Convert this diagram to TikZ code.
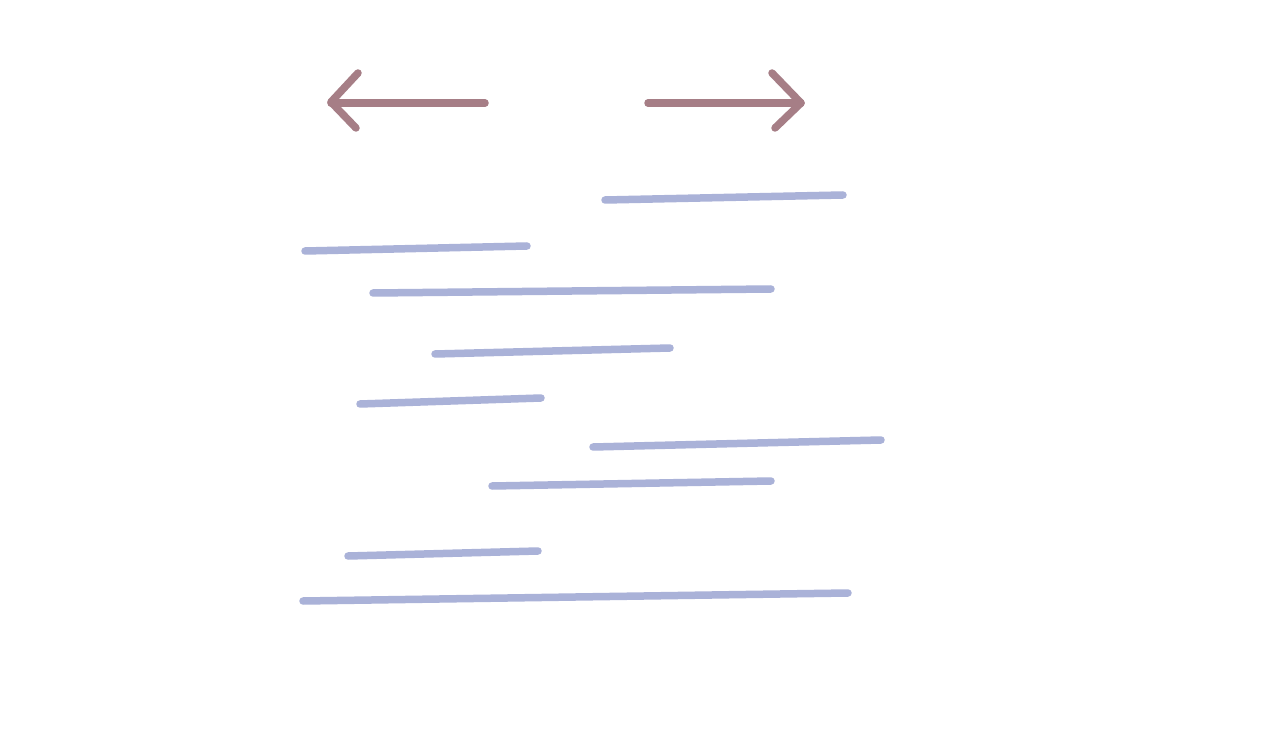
\documentclass[tikz,border=0pt]{standalone}
\begin{document}
\begin{tikzpicture}[x=1pt,y=-1pt,
  arrowline/.style={draw={rgb,255:red,166;green,126;blue,134}, line width=7.5pt, line cap=round, line join=round},
  barline/.style={draw={rgb,255:red,170;green,178;blue,216}, line width=7.5pt, line cap=round}]
\useasboundingbox[fill=white] (0,0) rectangle (1280,751);
% direction arrows
\draw[arrowline] (485,103) -- (331,103);
\draw[arrowline] (358,73) -- (331,102) -- (356,128);
\draw[arrowline] (648,103) -- (801,103);
\draw[arrowline] (772,73) -- (801,103) -- (775,128);
% bars
\draw[barline] (605,200) -- (843,195);
\draw[barline] (305,251) -- (527,246);
\draw[barline] (373,293) -- (771,289);
\draw[barline] (435,354) -- (670,348);
\draw[barline] (360,404) -- (541,398);
\draw[barline] (593,447) -- (881,440);
\draw[barline] (492,486) -- (771,481);
\draw[barline] (348,556) -- (538,551);
\draw[barline] (303,601) -- (848,593);
\end{tikzpicture}
\end{document}
